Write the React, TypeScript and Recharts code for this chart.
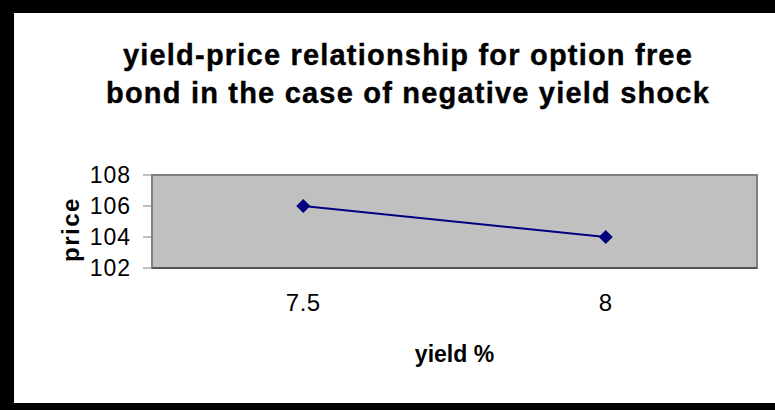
import React from 'react';
import { LineChart, Line, XAxis, YAxis, ReferenceArea, Label } from 'recharts';

// bond yields (%) and the matching prices
const yields = ['7.5', '8'];
const prices = [106, 104];
const priceTicks = [102, 104, 106, 108];

const data = yields.map((y, i) => ({ yieldLabel: y, pos: i + 0.5, price: prices[i] }));

const font = '"Liberation Sans", Arial, sans-serif';

const Diamond = (props: any) => {
  const { cx, cy } = props;
  if (cx == null || cy == null) return null;
  const r = 7;
  return <path d={`M${cx},${cy - r} L${cx + r},${cy} L${cx},${cy + r} L${cx - r},${cy} Z`} fill="#000080" />;
};

// rotated axis title to the left of the price ticks
const PriceTitle = (props: any) => {
  const { viewBox } = props;
  const x = viewBox.x + 10;
  const y = viewBox.y + viewBox.height / 2 + 8;
  return (
    <text
      x={x}
      y={y}
      transform={`rotate(-90, ${x}, ${y})`}
      textAnchor="middle"
      dominantBaseline="central"
      style={{ fontWeight: 'bold', fontSize: 24, letterSpacing: 1.5, fill: '#000', fontFamily: font }}
    >
      price
    </text>
  );
};

const App: React.FC = () => {
  return (
    <div style={{ position: 'absolute', left: 0, top: 0, width: 775, height: 410, background: '#fff', fontFamily: font }}>
      <div
        style={{
          position: 'absolute',
          left: 0,
          top: 36,
          width: 816,
          textAlign: 'center',
          fontWeight: 'bold',
          fontSize: 29,
          letterSpacing: 1.2,
          lineHeight: '38px',
          color: '#000',
          WebkitTextStroke: '0.4px #000',
        }}
      >
        yield-price relationship for option free
        <br />
        bond in the case of negative yield shock
      </div>
      <LineChart width={775} height={410} data={data} margin={{ top: 175, right: 18, bottom: 0, left: 60 }}>
        {/* category ticks sit between the two yields */}
        <XAxis
          xAxisId="grid"
          type="number"
          dataKey="pos"
          domain={[0, 2]}
          ticks={[0, 1, 2]}
          tick={false}
          tickSize={7}
          height={8}
          stroke="#555"
          strokeWidth={2}
          tickLine={{ stroke: '#333', strokeWidth: 1 }}
        />
        <XAxis
          xAxisId="labels"
          type="number"
          dataKey="pos"
          domain={[0, 2]}
          ticks={[0.5, 1.5]}
          tickFormatter={(v: number) => yields[Math.floor(v)]}
          axisLine={false}
          tickLine={false}
          tickMargin={12}
          height={134}
          tick={{ fill: '#000', fontSize: 24, fontFamily: font, letterSpacing: 0.5 }}
        >
          <Label value="yield %" position="insideTop" offset={70} style={{ fontWeight: 'bold', fontSize: 23, fill: '#000', fontFamily: font }} />
        </XAxis>
        <YAxis
          domain={[102, 108]}
          ticks={priceTicks}
          width={92}
          tickSize={9}
          tickMargin={12}
          stroke="#808080"
          tick={{ fill: '#000', fontSize: 23, fontFamily: font, letterSpacing: 1 }}
        >
          <Label content={<PriceTitle />} />
        </YAxis>
        <ReferenceArea xAxisId="grid" x1={0} x2={2} y1={102} y2={108} fill="#c0c0c0" fillOpacity={1} stroke="#808080" strokeWidth={2} />
        <Line
          xAxisId="grid"
          dataKey="price"
          stroke="#000080"
          strokeWidth={2}
          dot={<Diamond />}
          activeDot={false}
          isAnimationActive={false}
        />
      </LineChart>
      <div
        style={{
          position: 'absolute',
          left: 0,
          top: 0,
          width: 775,
          height: 410,
          boxSizing: 'border-box',
          borderTop: '13px solid #000',
          borderLeft: '14px solid #000',
          borderBottom: '7px solid #000',
          pointerEvents: 'none',
        }}
      />
    </div>
  );
};

export default App;
